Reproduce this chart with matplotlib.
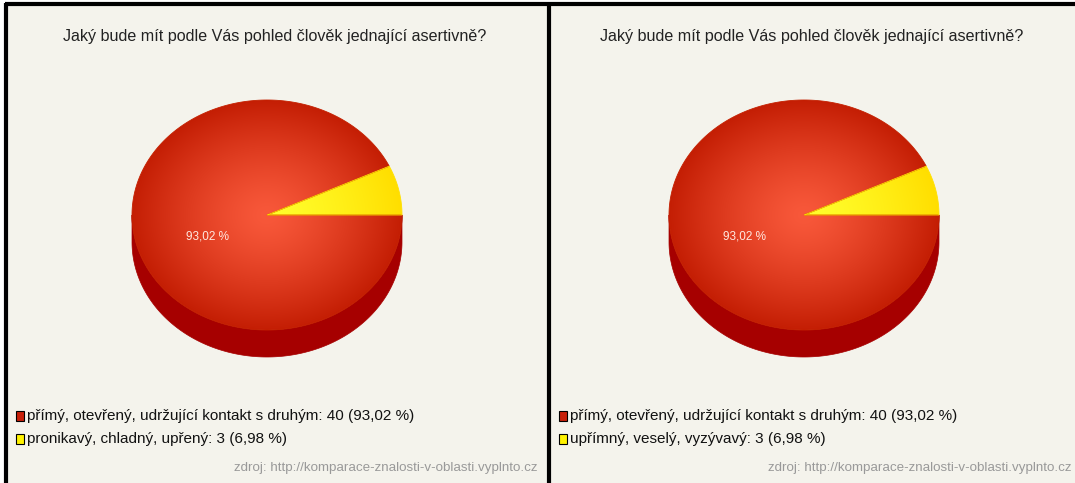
import numpy as np
import matplotlib
matplotlib.use("Agg")
import matplotlib.pyplot as plt
from matplotlib.patches import Polygon, Rectangle
from matplotlib.font_manager import fontManager

names = {f.name for f in fontManager.ttflist}
FONT = "Liberation Sans Narrow" if "Liberation Sans Narrow" in names else "Liberation Sans"
plt.rcParams['font.family'] = [FONT, 'DejaVu Sans']

title = "Jaký bude mít podle Vás pohled člověk jednající asertivně?"
labels_left = ["přímý, otevřený, udržující kontakt s druhým", "pronikavý, chladný, upřený"]
labels_right = ["přímý, otevřený, udržující kontakt s druhým", "upřímný, veselý, vyzývavý"]
values_left = [40, 3]
values_right = [40, 3]
pct_left = ["93,02 %", "6,98 %"]
pct_right = ["93,02 %", "6,98 %"]
source = "zdroj: http://komparace-znalosti-v-oblasti.vyplnto.cz"

W, H = 1075, 483
BG = "#f4f3ec"
fig = plt.figure(figsize=(W / 100, H / 100), dpi=100)
fig.patch.set_facecolor("white")
ax = fig.add_axes([0, 0, 1, 1])
ax.set_xlim(0, W)
ax.set_ylim(H, 0)
ax.axis("off")

# panels
ax.add_patch(Rectangle((5, 3), W - 5, H, facecolor=BG, edgecolor="none", zorder=0))
ax.plot([6, 6], [3, H], color="black", lw=3, zorder=5, solid_capstyle="butt")
ax.plot([5, W], [4, 4], color="black", lw=3, zorder=5, solid_capstyle="butt")
ax.plot([548.5, 548.5], [3, H], color="black", lw=3, zorder=5, solid_capstyle="butt")

RX, RY, DEPTH = 135, 115, 27
slice_cols = [((248, 88, 58), (196, 30, 4)), ((255, 255, 45), (255, 222, 0))]
edge_cols = ["#c42000", "#ffe000"]
legend_cols = ["#c8200a", "#fff200"]


def ell(cx, cy, t, dy=0):
    return np.column_stack([cx + RX * np.cos(t), cy - RY * np.sin(t) + dy])


def draw_pie(cx, cy, values, pcts, x0, labels, src_right):
    # side
    t = np.linspace(np.pi, 2 * np.pi, 200)
    top = ell(cx, cy, t)
    bot = ell(cx, cy, t[::-1], DEPTH)
    ax.add_patch(Polygon(np.vstack([top, bot]), closed=True, facecolor="#a60000",
                         edgecolor="#a60000", lw=0.5, zorder=2))
    total = sum(values)
    fr = [v / total for v in values]
    starts = [2 * np.pi * fr[1], 0]
    ends = [2 * np.pi, 2 * np.pi * fr[1]]
    yy, xx = np.mgrid[cy - RY:cy + RY:300j, cx - RX:cx + RX:300j]
    rr = np.sqrt(((xx - cx) / RX) ** 2 + ((yy - cy) / RY) ** 2).clip(0, 1)
    for i in range(2):
        tt = np.linspace(starts[i], ends[i], 300)
        pts = np.vstack([[cx, cy], ell(cx, cy, tt)])
        poly = Polygon(pts, closed=True, facecolor="none", edgecolor=edge_cols[i], lw=0.6, zorder=4)
        ax.add_patch(poly)
        c0 = np.array(slice_cols[i][0]) / 255
        c1 = np.array(slice_cols[i][1]) / 255
        k = rr[..., None] ** 1.3
        img = c0 * (1 - k) + c1 * k
        im = ax.imshow(img, extent=(cx - RX, cx + RX, cy + RY, cy - RY), zorder=3,
                       interpolation="bilinear")
        im.set_clip_path(poly)
    mid = (starts[0] + ends[0]) / 2
    lx = cx + 0.45 * RX * np.cos(mid)
    ly = cy - 0.45 * RY * np.sin(mid) + 10
    ax.text(lx, ly, pcts[0], color="#ffe8e0", fontsize=8.5, ha="center", va="center", zorder=6)
    ax.text(cx + 8, 36, title, fontsize=11.6, ha="center", va="center", color="#222222")
    for j, (lab, v, p) in enumerate(zip(labels, values, pcts)):
        y = 416 + j * 23
        ax.add_patch(Rectangle((x0, y - 5), 8, 10, facecolor=legend_cols[j], edgecolor="black",
                               lw=0.8, zorder=6))
        ax.text(x0 + 11, y, f"{lab}: {v} ({p})", fontsize=11, ha="left", va="center",
                color="#111111")
    ax.text(src_right, 468, source, fontsize=9.6, ha="right", va="center", color="#999999")


draw_pie(267, 215, values_left, pct_left, 16, labels_left, 538)
draw_pie(804, 215, values_right, pct_right, 559, labels_right, 1071)

fig.savefig("out.png", dpi=100, facecolor=fig.get_facecolor())
